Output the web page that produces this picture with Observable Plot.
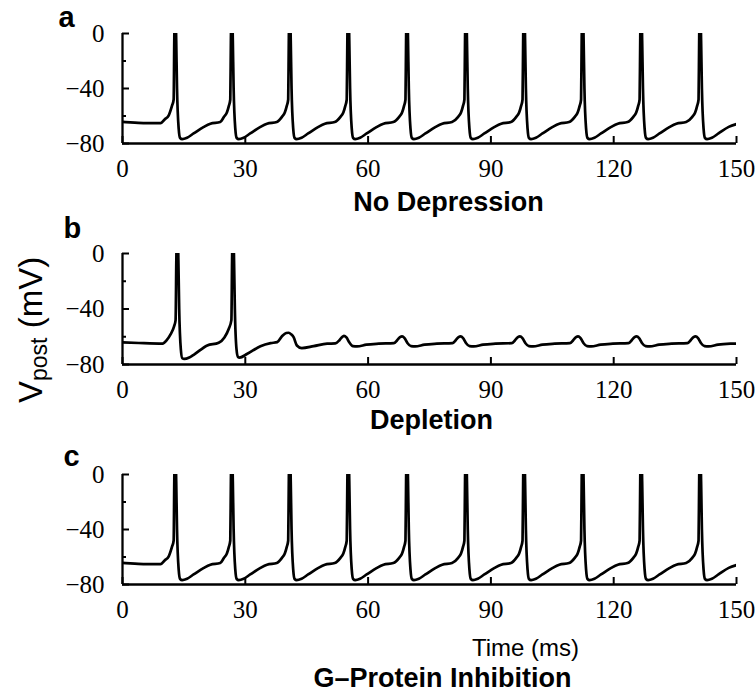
<!DOCTYPE html>
<html><head><meta charset="utf-8">
<script src="https://cdn.jsdelivr.net/npm/d3@7"></script>
<script src="https://cdn.jsdelivr.net/npm/@observablehq/plot@0.6"></script>
<style>
body{margin:0;background:#fff;}
#chart{position:relative;width:756px;height:693px;background:#fff;}
#chart svg{position:absolute;left:0;overflow:visible;}
</style></head><body><div id="chart"></div>
<script>
// Panel a / c trace (No Depression, G-Protein Inhibition): time (ms) and Vpost (mV)
const noDepTime = [0,3,6,9.3,10.3,11.3,12.1,12.5,12.65,12.87,13.12,13.32,13.72,14.07,14.57,15.77,17.37,19.87,21.47,23.87,
24.8,25.5,26.0,26.33,26.48,26.7,26.95,27.15,27.55,27.9,28.4,29.6,31.2,33.7,35.3,37.7,
38.95,39.65,40.15,40.48,40.63,40.85,41.1,41.3,41.7,42.05,42.55,43.75,45.35,47.85,49.45,51.85,
53.25,53.95,54.45,54.78,54.93,55.15,55.4,55.6,56.0,56.35,56.85,58.05,59.65,62.15,63.75,66.15,
67.6,68.3,68.8,69.13,69.28,69.5,69.75,69.95,70.35,70.7,71.2,72.4,74.0,76.5,78.1,80.5,
82.0,82.7,83.2,83.53,83.68,83.9,84.15,84.35,84.75,85.1,85.6,86.8,88.4,90.9,92.5,94.9,
96.2,96.9,97.4,97.73,97.88,98.1,98.35,98.55,98.95,99.3,99.8,101.0,102.6,105.1,106.7,109.1,
110.5,111.2,111.7,112.03,112.18,112.4,112.65,112.85,113.25,113.6,114.1,115.3,116.9,119.4,121.0,123.4,
124.8,125.5,126.0,126.33,126.48,126.7,126.95,127.15,127.55,127.9,128.4,129.6,131.2,133.7,135.3,137.7,
139.2,139.9,140.4,140.73,140.88,141.1,141.35,141.55,141.95,142.3,142.8,144.0,145.6,148.1,150];
const noDepV = [-64.3,-64.8,-65.2,-65.2,-62.5,-59.5,-52.5,-48,-5,30,-5,-40,-69,-76,-76.8,-75.8,-72.7,-67.9,-65.6,-64.4,
-60.6,-57.5,-52.5,-48,-5,30,-5,-40,-69,-76,-76.8,-75.8,-72.7,-67.9,-65.6,-64.4,
-60.6,-57.5,-52.5,-48,-5,30,-5,-40,-69,-76,-76.8,-75.8,-72.7,-67.9,-65.6,-64.4,
-60.6,-57.5,-52.5,-48,-5,30,-5,-40,-69,-76,-76.8,-75.8,-72.7,-67.9,-65.6,-64.4,
-60.6,-57.5,-52.5,-48,-5,30,-5,-40,-69,-76,-76.8,-75.8,-72.7,-67.9,-65.6,-64.4,
-60.6,-57.5,-52.5,-48,-5,30,-5,-40,-69,-76,-76.8,-75.8,-72.7,-67.9,-65.6,-64.4,
-60.6,-57.5,-52.5,-48,-5,30,-5,-40,-69,-76,-76.8,-75.8,-72.7,-67.9,-65.6,-64.4,
-60.6,-57.5,-52.5,-48,-5,30,-5,-40,-69,-76,-76.8,-75.8,-72.7,-67.9,-65.6,-64.4,
-60.6,-57.5,-52.5,-48,-5,30,-5,-40,-69,-76,-76.8,-75.8,-72.7,-67.9,-65.6,-64.4,
-60.6,-57.5,-52.5,-48,-5,30,-5,-40,-69,-76,-76.8,-75.8,-72.7,-67.9,-65.9];

// Panel b trace (Depletion)
const depTime = [0,4,9.8,10.8,11.7,12.6,12.97,13.15,13.4,13.65,13.85,14.25,14.6,15.1,16.3,17.4,20.7,23.5,
24.9,25.97,26.6,26.77,27.0,27.25,27.45,27.85,28.2,28.6,30.5,33.7,36.2,37.8,
39.0,40.0,40.6,41.2,41.8,42.6,43.8,46.7,50.0,52.0,
53.0,53.6,54.1,54.7,55.4,56.3,57.3,59.6,62.6,66.3,
67.1,67.8,68.3,68.9,69.6,70.5,71.5,73.8,76.8,80.6,
81.4,82.1,82.6,83.2,83.9,84.8,85.8,88.1,91.1,95.1,
95.9,96.6,97.1,97.7,98.4,99.3,100.3,102.6,105.6,109.3,
110.1,110.8,111.3,111.9,112.6,113.5,114.5,116.8,119.8,123.6,
124.4,125.1,125.6,126.2,126.9,127.8,128.8,131.1,134.1,138.0,
138.8,139.5,140.0,140.6,141.3,142.2,143.2,145.5,148.5,150];
const depV = [-64.0,-64.5,-65.0,-62.5,-58.5,-52.5,-48,-5,30,-5,-40,-69,-75.5,-76,-75,-73,-66.3,-64.3,
-60.5,-54.2,-48,-5,30,-5,-40,-69,-74.5,-75,-72.3,-66.8,-64.6,-63.9,
-59.5,-57.3,-57.1,-58.2,-60.3,-66.3,-68.2,-66.8,-65.0,-64.8,
-62.5,-60.3,-59.3,-60.5,-64,-66.8,-67,-65.7,-65,-64.6,
-62.5,-60.3,-59.8,-61,-64.5,-66.8,-67,-65.7,-65,-64.6,
-62.5,-60.3,-59.8,-61,-64.5,-66.8,-67,-65.7,-65,-64.6,
-62.5,-60.3,-59.8,-61,-64.5,-66.8,-67,-65.7,-65,-64.6,
-62.5,-60.3,-59.8,-61,-64.5,-66.8,-67,-65.7,-65,-64.6,
-62.5,-60.3,-59.8,-61,-64.5,-66.8,-67,-65.7,-65,-64.6,
-62.5,-60.3,-59.8,-61,-64.5,-66.8,-67,-65.7,-65,-64.9];

const gProtTime = noDepTime;   // panel c is drawn identical to panel a
const gProtV = noDepV;

const xTicks = [0, 30, 60, 90, 120, 150];
const yMajorTicks = [0, -40, -80];
const yMinorTicks = [-20, -60];
const panelLetters = ["a", "b", "c"];
const panelTitles = ["No Depression", "Depletion", "G\u2013Protein Inhibition"];
const xAxisLabel = "Time (ms)";

const SANS = "'Liberation Sans', Arial, Helvetica, sans-serif";
const SERIF = "'Liberation Serif', 'Times New Roman', serif";

function panel(time, volts, opts) {
  const data = time.map((t, i) => ({t, v: volts[i]}));
  const extra = opts.extra || [];
  return Plot.plot({
    width: 756,
    height: opts.height,
    marginLeft: 122,
    marginRight: 20,
    marginTop: opts.marginTop,
    marginBottom: opts.marginBottom,
    style: {fontFamily: SERIF, fontSize: "25px", background: "white", overflow: "visible", color: "black"},
    x: {domain: [0, 150], axis: null},
    y: {domain: [-80, 0], axis: null},
    marks: [
      Plot.line(data, {x: "t", y: "v", clip: true, curve: "monotone-x", stroke: "black", strokeWidth: 2.7}),
      Plot.ruleX([0], {stroke: "black", strokeWidth: 2.3}),
      Plot.ruleY([-80], {stroke: "black", strokeWidth: 2.3}),
      Plot.axisX(xTicks, {tickSize: -7, tickPadding: 23, strokeWidth: 2, label: null, fontFamily: SERIF, fontSize: 25}),
      Plot.axisY(yMajorTicks, {tickSize: -7, tickPadding: 25, strokeWidth: 2, label: null, fontFamily: SERIF, fontSize: 25}),
      Plot.axisY(yMinorTicks, {tickSize: -4, tickPadding: 25, strokeWidth: 2, label: null, tickFormat: () => ""}),
      Plot.text([opts.letter], {text: d => d, frameAnchor: "top-left", dx: opts.letterDx, dy: opts.letterDy,
        textAnchor: "start", lineAnchor: "bottom", fontFamily: SANS, fontWeight: "bold", fontSize: 29, fill: "black"}),
      Plot.text([opts.title], {text: d => d, frameAnchor: "bottom-left", dx: opts.titleDx, dy: opts.titleDy,
        textAnchor: "middle", lineAnchor: "bottom", fontFamily: SANS, fontWeight: "bold", fontSize: 27, fill: "black"}),
      ...extra
    ]
  });
}

const chart = document.getElementById("chart");

const pa = panel(noDepTime, noDepV, {height: 220, marginTop: 33, marginBottom: 77,
  letter: panelLetters[0], letterDx: -64, letterDy: -7, title: panelTitles[0], titleDx: 326, titleDy: 67});
pa.style.top = "0px";
chart.appendChild(pa);

const pb = panel(depTime, depV, {height: 220, marginTop: 33, marginBottom: 76,
  letter: panelLetters[1], letterDx: -59, letterDy: -16, title: panelTitles[1], titleDx: 309, titleDy: 64});
pb.style.top = "220px";
chart.appendChild(pb);

const pc = panel(gProtTime, gProtV, {height: 253, marginTop: 34, marginBottom: 109,
  letter: panelLetters[2], letterDx: -59, letterDy: -9, title: panelTitles[2], titleDx: 320, titleDy: 102,
  extra: [Plot.text([xAxisLabel], {text: d => d, frameAnchor: "bottom-left", dx: 403, dy: 71,
    textAnchor: "middle", lineAnchor: "bottom", fontFamily: SANS, fontSize: 24, fill: "black"})]});
pc.style.top = "440px";
chart.appendChild(pc);

// Shared y-axis label with subscript, attached to middle panel
const ylab = d3.select(pb).append("text")
  .attr("transform", "translate(42,183) rotate(-90)")
  .style("font-family", SANS)
  .style("font-size", "33px")
  .attr("fill", "black")
  .attr("text-anchor", "start");
ylab.append("tspan").text("V");
ylab.append("tspan").style("font-size", "23px").attr("dy", 5).text("post");
ylab.append("tspan").attr("dy", -5).text("\u00a0(mV)");
</script></body></html>
